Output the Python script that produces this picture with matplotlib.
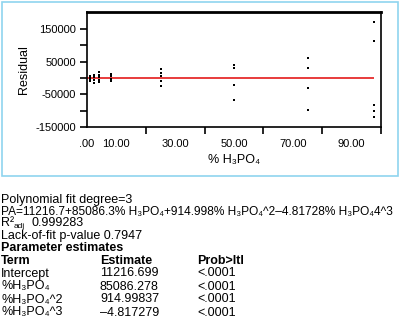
import matplotlib
matplotlib.use("Agg")
import matplotlib.pyplot as plt
from matplotlib.patches import Rectangle

plt.rcParams['font.family'] = ['Liberation Sans', 'DejaVu Sans']

# ---- data ----
conc = [1, 2.5, 4, 8, 25, 50, 75, 97.5]
residuals = [
    [6000, 2000, -3000, -8000],
    [9000, 3000, -5000, -14000],
    [18000, 10000, 2000, -5000, -12000],
    [13000, 6000, -2000, -8000],
    [26500, 16500, 6800, -8800, -24700],
    [41200, 29400, -22600, -65900],
    [62600, 29400, -30600, -98200],
    [170600, 114700, -81500, -101200, -120600],
]
x_label_pos = [0, 10, 30, 50, 70, 90]
x_labels = ['.00', '10.00', '30.00', '50.00', '70.00', '90.00']
x_minor = [0, 20, 40, 60, 80, 100]
y_ticks = [-150000, -100000, -50000, 0, 50000, 100000, 150000]
y_label_pos = [-150000, -50000, 50000, 150000]

H = "H\u2083PO\u2084"
line_poly = "Polynomial fit degree=3"
line_pa = "PA=11216.7+85086.3% " + H + "+914.998% " + H + "^2\u20134.81728% " + H + "4^3"
r2_value = "0.999283"
line_lof = "Lack-of-fit p-value 0.7947"
line_param = "Parameter estimates"
table_header = ["Term", "Estimate", "Prob>ltl"]
table_terms = ["Intercept", "%" + H, "%" + H + "^2", "%" + H + "^3"]
table_estimates = ["11216.699", "85086.278", "914.99837", "\u20134.817279"]
table_probs = ["<.0001", "<.0001", "<.0001", "<.0001"]

W, Hpx = 400, 330
fig = plt.figure(figsize=(W / 100, Hpx / 100), dpi=100)

def fx(px):
    return px / W

def fy(py):
    return 1 - py / Hpx

# light blue frame around the chart panel
fig.patches.append(Rectangle((fx(2), fy(176)), fx(396), 174 / Hpx, transform=fig.transFigure,
                             fill=False, edgecolor='#8fd4ef', linewidth=1.2))

ax = fig.add_axes([fx(87), fy(127), fx(381 - 87), (127 - 12) / Hpx])
for xv, rs in zip(conc, residuals):
    ax.plot([xv] * len(rs), rs, linestyle='none', marker='s', markersize=1.8,
            color='black', markeredgewidth=0)
ax.hlines(0, 0, max(conc), color='#e41a1a', linewidth=1.2, zorder=1)

ax.set_xlim(0, 100)
ax.set_ylim(-150000, 202000)
ax.set_xticks(x_label_pos)
ax.set_xticklabels(x_labels)
ax.set_xticks(x_minor, minor=True)
ax.tick_params(axis='x', which='major', length=0, pad=9, labelsize=8)
ax.tick_params(axis='x', which='minor', length=5, width=1.2, direction='out')
ax.set_yticks(y_ticks)
ax.set_yticklabels([str(v) if v in y_label_pos else '' for v in y_ticks])
ax.tick_params(axis='y', which='major', length=5, width=1.2, labelsize=8, pad=3)
for s in ax.spines.values():
    s.set_linewidth(1.2)
ax.spines['top'].set_linewidth(2)
ax.set_ylabel("Residual", fontsize=9, labelpad=4)
ax.set_xlabel("% " + H, fontsize=9, labelpad=3)

# text block
fs = 9
fig.text(fx(1), fy(200), line_poly, fontsize=fs, va='center')
fig.text(fx(1), fy(211.5), line_pa, fontsize=8.6, va='center')
fig.text(fx(1), fy(223), "R\u00b2", fontsize=fs, va='center')
fig.text(fx(14), fy(226), "adj", fontsize=6, va='center')
fig.text(fx(32), fy(223.5), r2_value, fontsize=fs, va='center')
fig.text(fx(1), fy(236), line_lof, fontsize=fs, va='center')
fig.text(fx(1), fy(248), line_param, fontsize=fs, fontweight='bold', va='center')
row_y = [260.5, 273.5, 286.5, 299.5, 312.5]
col_x = [1, 100, 197]
for cx, h in zip(col_x, table_header):
    fig.text(fx(cx), fy(row_y[0]), h, fontsize=fs, fontweight='bold', va='center')
for i in range(4):
    for cx, col in zip(col_x, [table_terms, table_estimates, table_probs]):
        fig.text(fx(cx), fy(row_y[i + 1]), col[i], fontsize=fs, va='center')

fig.savefig("out.png", dpi=100)
